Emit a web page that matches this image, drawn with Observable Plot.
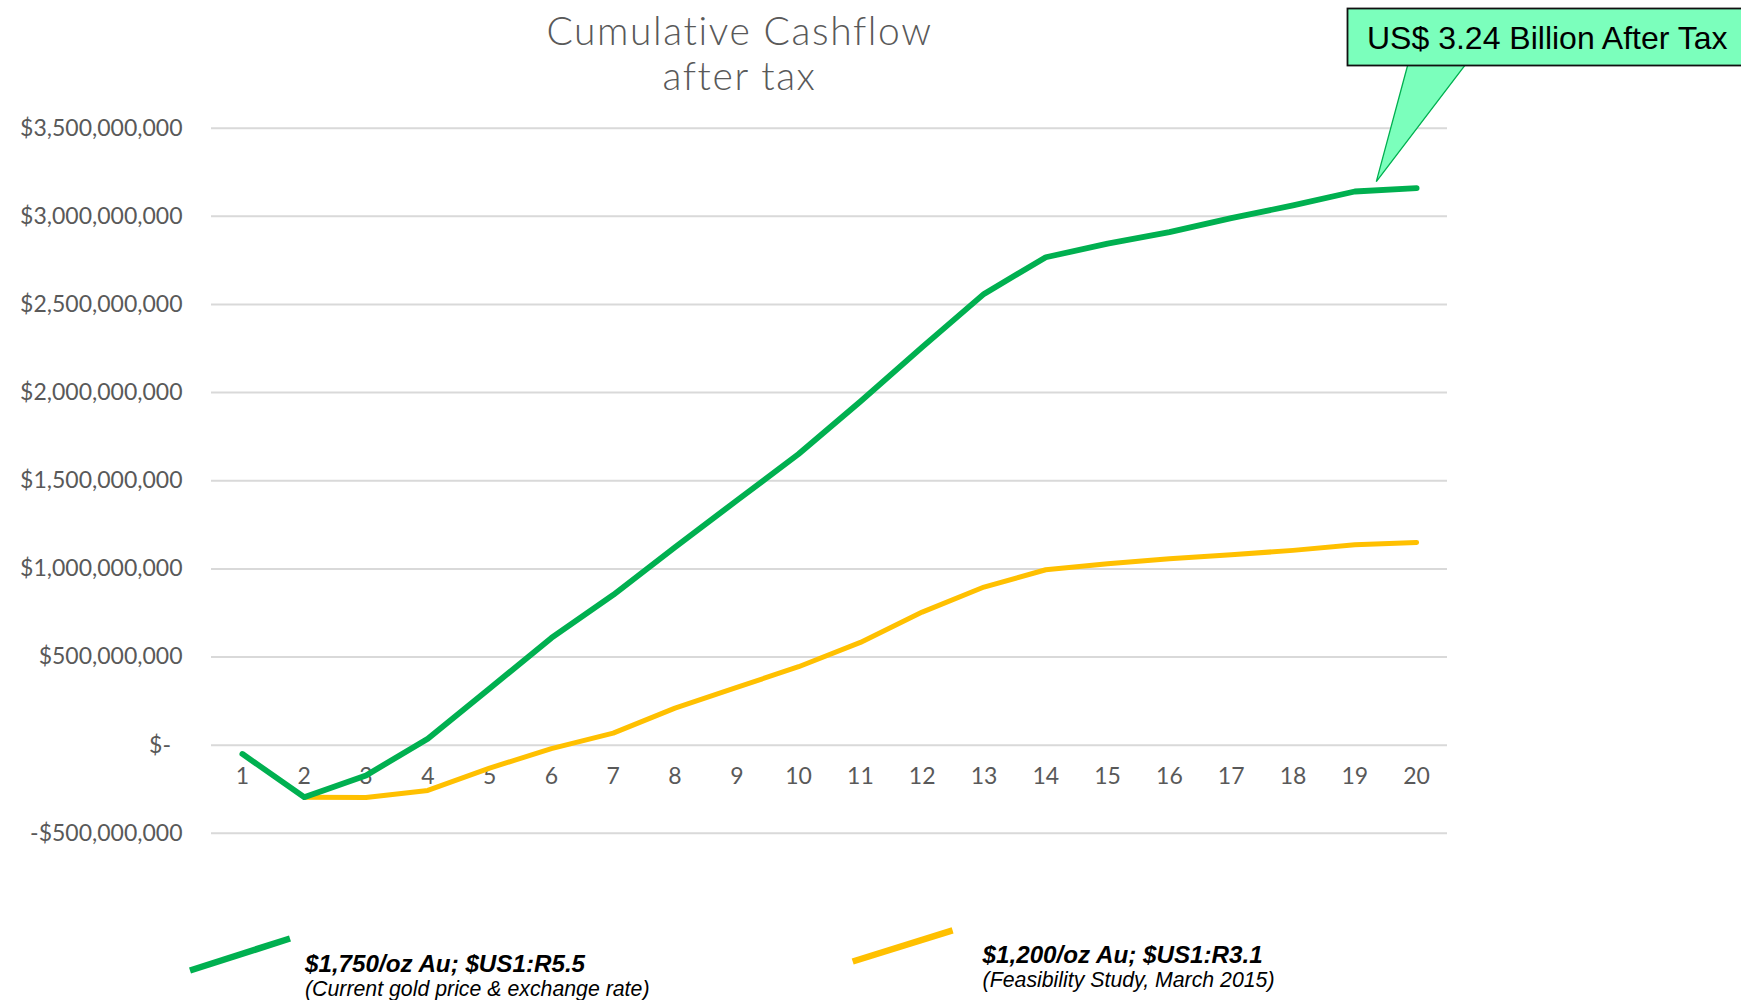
<!DOCTYPE html>
<html>
<head>
<meta charset="utf-8">
<script src="https://cdn.jsdelivr.net/npm/d3@7"></script>
<script src="https://cdn.jsdelivr.net/npm/@observablehq/plot@0.6"></script>
<style>
  html, body { margin: 0; padding: 0; background: #fff; }
  #wrap { position: relative; width: 1741px; height: 1000px; overflow: hidden; background: #fff; }
  #chart { position: absolute; left: 0; top: 0; }
  #overlay { position: absolute; left: 0; top: 0; pointer-events: none; }
</style>
</head>
<body>
<div id="wrap">
  <div id="chart"></div>
  <svg id="overlay" width="1741" height="1000" xmlns="http://www.w3.org/2000/svg"></svg>
</div>
<script>
// ---- data ----
const years = [1, 2, 3, 4, 5, 6, 7, 8, 9, 10, 11, 12, 13, 14, 15, 16, 17, 18, 19, 20];
const current = [-50e6, -295e6, -172e6, 37e6, 322e6, 608e6, 852e6, 1123e6, 1388e6, 1652e6,
                 1950e6, 2258e6, 2560e6, 2768e6, 2845e6, 2910e6, 2990e6, 3062e6, 3141e6, 3160e6];
const feasibility = [null, -295e6, -297e6, -257e6, -130e6, -20e6, 68e6, 210e6, 328e6, 445e6,
                     583e6, 755e6, 897e6, 995e6, 1029e6, 1058e6, 1080e6, 1105e6, 1137e6, 1150e6];
const yTicks = [-5e8, 0, 5e8, 1e9, 1.5e9, 2e9, 2.5e9, 3e9, 3.5e9];
const titleLines = ["Cumulative Cashflow", "after tax"];
const seriesNames = ["$1,750/oz Au; $US1:R5.5", "$1,200/oz Au; $US1:R3.1"];
const seriesNotes = ["(Current gold price & exchange rate)", "(Feasibility Study, March 2015)"];
const seriesColors = ["#00B050", "#FFC000"];
const calloutText = "US$ 3.24 Billion After Tax";

// ---- build rows ----
const currentRows = years.map((x, i) => ({x, y: current[i]}));
const feasRows = years.map((x, i) => ({x, y: feasibility[i]})).filter(d => d.y != null);

const num = d3.format(",.0f");
const fmt = v => v === 0 ? "$-\u2002" : (v < 0 ? "-$" + num(-v) : "$" + num(v));

const plot = Plot.plot({
  width: 1741,
  height: 860,
  marginTop: 127.7,
  marginBottom: 27.2,
  marginLeft: 211,
  marginRight: 294,
  style: {fontFamily: "Lato, 'Open Sans', sans-serif", fontSize: "23px", color: "#595959", background: "transparent"},
  x: {domain: [0.5, 20.5], axis: null},
  y: {domain: [-5e8, 3.5e9], axis: null},
  marks: [
    Plot.ruleY(yTicks, {stroke: "#d9d9d9", strokeWidth: 2}),
    Plot.axisY({ticks: yTicks, tickSize: 0, tickPadding: 29, tickFormat: fmt, label: null,
                fontSize: 23, fill: "#595959", anchor: "left", style: {letterSpacing: "0.3px"}}),
    Plot.text(years, {x: d => d, y: () => 0, dy: 31, text: d => String(d), fontSize: 23, fill: "#595959"}),
    Plot.line(feasRows, {x: "x", y: "y", stroke: seriesColors[1], strokeWidth: 5, strokeLinecap: "round", strokeLinejoin: "round"}),
    Plot.line(currentRows, {x: "x", y: "y", stroke: seriesColors[0], strokeWidth: 5.8, strokeLinecap: "round", strokeLinejoin: "round"})
  ]
});
document.getElementById("chart").appendChild(plot);

// ---- overlay: title, callout, legend ----
const ov = d3.select("#overlay");
[[titleLines[0], 44.5], [titleLines[1], 89.5]].forEach(([t, y]) => {
  ov.append("text").attr("x", 739.5).attr("y", y).attr("text-anchor", "middle")
    .attr("font-family", "Lato, sans-serif").attr("font-weight", 300).attr("font-size", 39)
    .attr("letter-spacing", 1.6).attr("fill", "#595959").text(t);
});

// callout pointer + box
ov.append("polygon").attr("points", "1408,64 1466,64 1376.3,181.7")
  .attr("fill", "#7BFFBC").attr("stroke", "#00B050").attr("stroke-width", 1.3);
ov.append("rect").attr("x", 1347.5).attr("y", 8.5).attr("width", 400).attr("height", 57)
  .attr("fill", "#7BFFBC").attr("stroke", "#111").attr("stroke-width", 1.8);
ov.append("text").attr("x", 1367).attr("y", 48.5).attr("font-family", "'Liberation Sans', Arial, sans-serif")
  .attr("font-size", 32).attr("fill", "#000").text(calloutText);

// legend
const leg = [
  {x1: 190, y1: 970.5, x2: 290, y2: 938.5, tx: 305, b1: 972, b2: 996},
  {x1: 852.7, y1: 961.5, x2: 952.6, y2: 930.4, tx: 982.6, b1: 963, b2: 987}
];
leg.forEach((l, i) => {
  ov.append("line").attr("x1", l.x1).attr("y1", l.y1).attr("x2", l.x2).attr("y2", l.y2)
    .attr("stroke", seriesColors[i]).attr("stroke-width", 6.5);
  ov.append("text").attr("x", l.tx).attr("y", l.b1).attr("font-family", "'Liberation Sans', Arial, sans-serif")
    .attr("font-size", 24.2).attr("font-weight", "bold").attr("font-style", "italic").attr("fill", "#000").text(seriesNames[i]);
  ov.append("text").attr("x", l.tx).attr("y", l.b2).attr("font-family", "'Liberation Sans', Arial, sans-serif")
    .attr("font-size", 21.3).attr("font-style", "italic").attr("fill", "#000").text(seriesNotes[i]);
});
</script>
</body>
</html>
